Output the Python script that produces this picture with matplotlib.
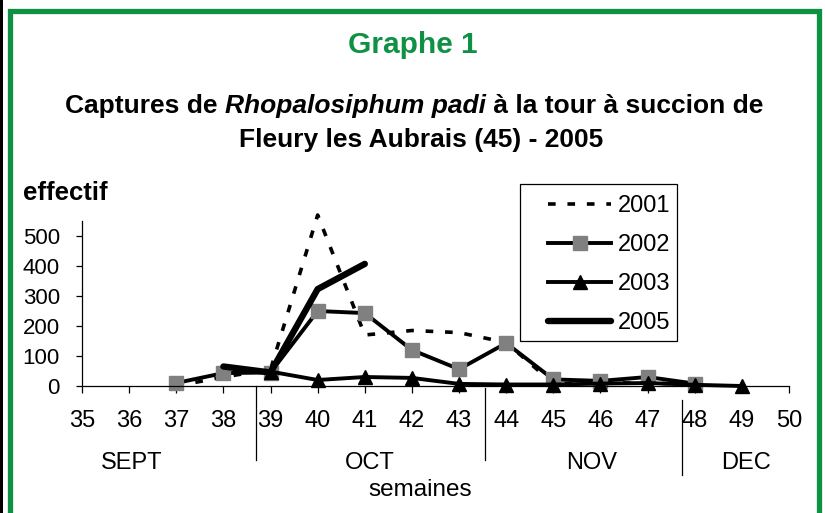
import matplotlib
matplotlib.use("Agg")
from matplotlib import pyplot as plt
from matplotlib import patches, transforms

plt.rcParams['font.family'] = ['Liberation Sans', 'DejaVu Sans']
plt.rcParams['lines.scale_dashes'] = False

# data (weekly captures)
weeks_2001 = [37, 38, 39, 40, 41, 42, 43, 44, 45, 46, 47, 48]
vals_2001 = [0, 30, 55, 570, 170, 185, 178, 145, 8, 10, 10, 5]
weeks_2002 = [37, 38, 39, 40, 41, 42, 43, 44, 45, 46, 47, 48]
vals_2002 = [10, 43, 45, 250, 243, 120, 56, 143, 22, 17, 30, 8]
weeks_2003 = [39, 40, 41, 42, 43, 44, 45, 46, 47, 48, 49]
vals_2003 = [48, 20, 30, 27, 7, 5, 5, 8, 10, 4, 0]
weeks_2005 = [38, 39, 40, 41]
vals_2005 = [65, 45, 323, 407]

week_ticks = list(range(35, 51))
y_ticks = [0, 100, 200, 300, 400, 500]
months = ['SEPT', 'OCT', 'NOV', 'DEC']
month_centers = [36.06, 41.11, 45.82, 49.09]
month_breaks = [38.69, 43.54, 47.74]

W, H = 825, 513
fig = plt.figure(figsize=(W / 100, H / 100), dpi=100)
fig.patch.set_facecolor('white')


def fx(px):
    return px / W


def fy(py):
    return 1 - py / H


ax = fig.add_axes([fx(82), fy(386), fx(789) - fx(82), (386 - 221) / H])

ax.plot(weeks_2001, vals_2001, color='black', lw=2.6, dashes=(5.5, 8.5),
        label='2001', clip_on=False)
ax.plot(weeks_2002, vals_2002, color='black', lw=2.8, marker='s', ms=9.5,
        mfc='#808080', mec='#808080', label='2002', clip_on=False)
ax.plot(weeks_2003, vals_2003, color='black', lw=2.8, marker='^', ms=10.5,
        mfc='black', mec='black', label='2003', clip_on=False)
ax.plot(weeks_2005, vals_2005, color='black', lw=4.6, solid_capstyle='round',
        label='2005', clip_on=False)

ax.set_xlim(35, 50)
ax.set_ylim(0, 550)
ax.set_xticks(week_ticks)
ax.set_xticklabels([str(w) for w in week_ticks])
ax.set_yticks(y_ticks)
for s in ['top', 'right']:
    ax.spines[s].set_visible(False)
for s in ['left', 'bottom']:
    ax.spines[s].set_linewidth(0.9)
ax.tick_params(axis='x', direction='out', length=5, width=0.9, pad=12, labelsize=17)
ax.tick_params(axis='y', direction='out', length=4, width=0.9, pad=12, labelsize=16)

# month separators below the axis
tr = transforms.blended_transform_factory(ax.transData, ax.transAxes)
sep_ranges = [(-0.0, -0.448), (-0.01, -0.448), (-0.085, -0.539)]
for xb, (y0, y1) in zip(month_breaks, sep_ranges):
    ax.plot([xb, xb], [y0, y1], color='black', lw=0.9, transform=tr, clip_on=False)
for m, xc in zip(months, month_centers):
    ax.text(xc, -0.467, m, transform=tr, ha='center', va='center', fontsize=17)

fig.text(fx(420), fy(490), 'semaines', ha='center', va='center', fontsize=17.5)
fig.text(fx(23), fy(200), 'effectif', ha='left', va='baseline', fontsize=18.5,
         fontweight='bold')

leg = ax.legend(loc='upper left', bbox_to_anchor=(fx(539), fy(186)),
                bbox_transform=fig.transFigure, borderaxespad=0, frameon=False,
                fontsize=17, handlelength=2.65, handletextpad=0.3,
                labelspacing=0.72, borderpad=0.4)
fig.patches.append(patches.Rectangle((fx(520), fy(341)), fx(677) - fx(520), fy(184) - fy(341),
                                     transform=fig.transFigure, fill=False,
                                     edgecolor='black', lw=0.9))

# titles
fig.text(fx(413), fy(53), 'Graphe 1', ha='center', va='baseline', fontsize=21.5,
         fontweight='bold', color='#0f9143')

sub_size = 19
parts = [('Captures de ', 'normal'), ('Rhopalosiphum padi', 'italic'),
         (' à la tour à succion de', 'normal')]
texts = [fig.text(0, fy(113), p, fontsize=sub_size, fontweight='bold', style=st,
                  va='baseline', ha='left') for p, st in parts]
fig.canvas.draw()
r = fig.canvas.get_renderer()
widths = [t.get_window_extent(r).width for t in texts]
x = 414 - sum(widths) / 2
for t, w in zip(texts, widths):
    t.set_x(fx(x))
    x += w
fig.text(fx(421), fy(147), 'Fleury les Aubrais (45) - 2005', ha='center', va='baseline',
         fontsize=sub_size, fontweight='bold')

# frame around the picture
fig.patches.append(patches.Rectangle((fx(9.5), fy(530)), fx(818.5) - fx(9.5), fy(11) - fy(530),
                                     transform=fig.transFigure, fill=False,
                                     edgecolor='#0f9143', lw=3.8))
fig.patches.append(patches.Rectangle((0, 0), fx(2.5), 1, transform=fig.transFigure,
                                     facecolor='black', edgecolor='none'))

fig.savefig('out.png', dpi=100)
